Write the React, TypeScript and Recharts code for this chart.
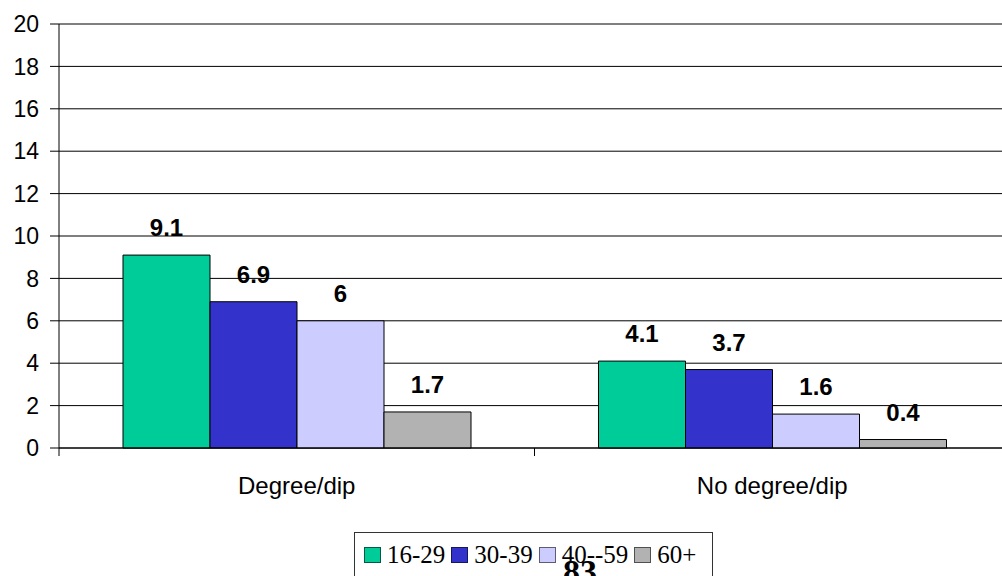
import { Bar, BarChart, CartesianGrid, LabelList, Legend, XAxis, YAxis } from "recharts";

const categories = ["Degree/dip", "No degree/dip"];
const age16to29 = [9.1, 4.1];
const age30to39 = [6.9, 3.7];
const age40to59 = [6, 1.6];
const age60plus = [1.7, 0.4];
const yTicks = [0, 2, 4, 6, 8, 10, 12, 14, 16, 18, 20];

const series = [
  { key: "a16", name: "16-29", color: "#00CC99", values: age16to29 },
  { key: "a30", name: "30-39", color: "#3333CC", values: age30to39 },
  { key: "a40", name: "40--59", color: "#CCCCFF", values: age40to59 },
  { key: "a60", name: "60+", color: "#B2B2B2", values: age60plus },
];

const data = categories.map((cat, i) => {
  const row: Record<string, any> = { cat };
  series.forEach((s) => (row[s.key] = s.values[i]));
  return row;
});

const SANS = "Arial, 'Liberation Sans', sans-serif";
const SERIF = "'Times New Roman', 'Liberation Serif', serif";

function CategoryTick(props: any) {
  const { x, y, payload, width, visibleTicksCount } = props;
  const half = width && visibleTicksCount ? width / visibleTicksCount / 2 : payload?.offset ?? 0;
  return (
    <g>
      <line x1={x - half} x2={x - half} y1={y} y2={y + 8} stroke="#000" />
      <line x1={x + half} x2={x + half} y1={y} y2={y + 8} stroke="#000" />
      <text x={x} y={y + 46} textAnchor="middle" fill="#000" fontSize={24} fontFamily={SANS}>
        {payload.value}
      </text>
    </g>
  );
}

function BoxLegend(props: any) {
  const items = props.payload || [];
  return (
    <div
      style={{
        position: "relative",
        boxSizing: "border-box",
        width: 359,
        height: 60,
        border: "1px solid #333",
        background: "#fff",
        padding: "10px 0 0 9px",
        display: "flex",
        alignItems: "flex-start",
      }}
    >
      {items.map((it: any) => (
        <div key={it.value} style={{ display: "flex", alignItems: "center", height: 24, marginRight: 6 }}>
          <span
            style={{
              display: "inline-block",
              boxSizing: "border-box",
              width: 17,
              height: 16,
              background: it.color,
              border: "1px solid rgba(0,0,0,0.55)",
              marginRight: 6,
            }}
          />
          <span style={{ fontFamily: SERIF, fontSize: 25, lineHeight: "24px", color: "#000" }}>{it.value}</span>
        </div>
      ))}
      <span
        style={{
          position: "absolute",
          left: 208,
          top: 22,
          fontFamily: SERIF,
          fontWeight: "bold",
          fontSize: 34,
          lineHeight: "34px",
          color: "#000",
        }}
      >
        83
      </span>
    </div>
  );
}

export default function App() {
  return (
    <div style={{ position: "absolute", left: 0, top: 0, width: 1002, height: 576, overflow: "hidden", background: "#fff" }}>
      <BarChart
        width={1002}
        height={576}
        data={data}
        margin={{ top: 24, right: -8, left: 0, bottom: 68 }}
        barCategoryGap={64}
        barGap={0}
      >
        <CartesianGrid horizontal vertical={false} stroke="#000" fill="none" />
        <XAxis
          dataKey="cat"
          height={60}
          interval={0}
          tickLine={false}
          tickSize={0}
          tickMargin={0}
          axisLine={{ stroke: "#000" }}
          tick={<CategoryTick />}
        />
        <YAxis
          width={59}
          domain={[0, 20]}
          ticks={yTicks}
          interval={0}
          tickSize={9}
          tickMargin={11}
          axisLine={{ stroke: "#000" }}
          tickLine={{ stroke: "#000" }}
          tick={{ fill: "#000", fontSize: 23, fontFamily: SANS }}
        />
        <Legend
          layout="horizontal"
          verticalAlign="middle"
          align="center"
          wrapperStyle={{ left: 354, top: 532, width: 359 }}
          content={<BoxLegend />}
        />
        {series.map((s) => (
          <Bar key={s.key} dataKey={s.key} name={s.name} fill={s.color} stroke="#000" strokeWidth={1} isAnimationActive={false}>
            <LabelList
              dataKey={s.key}
              position="top"
              offset={19}
              fill="#000"
              style={{ fontWeight: "bold", fontSize: 24, fontFamily: SANS }}
            />
          </Bar>
        ))}
      </BarChart>
    </div>
  );
}
